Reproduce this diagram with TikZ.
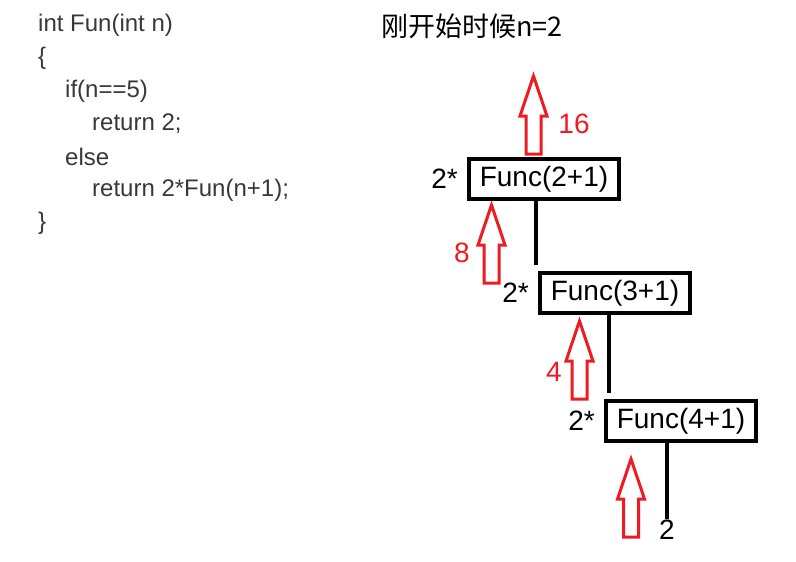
\documentclass[tikz,border=0pt]{standalone}
\usepackage{fontspec}
\setmainfont{Liberation Sans}
\newfontfamily\cjk{Noto Sans CJK SC}
\usetikzlibrary{positioning}
\definecolor{paintred}{RGB}{237,28,36}
\tikzset{
  funcbox/.style={draw,line width=4pt,minimum width=150pt,minimum height=40pt,inner sep=0pt,font=\fontsize{28}{30}\selectfont},
  times/.style={font=\fontsize{28}{30}\selectfont,inner sep=2pt},
  code/.style={font=\fontsize{24}{26}\selectfont,text=black!78,inner sep=0pt,anchor=west},
  retval/.style={font=\fontsize{28}{30}\selectfont,text=paintred,inner sep=0pt},
  link/.style={line width=4pt},
  redup/.pic={
    \draw[paintred,line width=3pt,line join=miter]
      (-7.5,0) -- (-7.5,-38) -- (-13.5,-38) -- (0,-78) -- (13.5,-38) -- (7.5,-38) -- (7.5,0) -- cycle;
  }
}
\begin{document}
\begin{tikzpicture}[x=1pt,y=-1pt]
	\useasboundingbox (0,0) rectangle (796,562);
	% code on the left
	\foreach \row/\ind/\txt in {0/0/{int Fun(int n)},1/0/{\{},2/1/{if(n==5)},3/2/{return 2;},4/1/{else},5/2/{return 2*Fun(n+1);},6/0/{\}}}
	\node[code] (c\row) at (38+27*\ind,25+33*\row) {\txt};
	% title
	\node[font=\cjk\fontsize{27}{29}\selectfont,inner sep=0pt] (title) at (472,26) {刚开始时候n=2};
	% calls
	\node[funcbox] (f1) at (544,179) {Func(2+1)};
	\node[funcbox] (f2) at (615,293) {Func(3+1)};
	\node[funcbox] (f3) at (681,421) {Func(4+1)};
	\node[times,left=7pt of f1] (t1) {2*};
	\node[times,left=7pt of f2] (t2) {2*};
	\node[times,left=7pt of f3] (t3) {2*};
	\node[font=\fontsize{28}{30}\selectfont,inner sep=1pt] (ret) at (667,530) {2};
	\draw[link] ([xshift=-2pt]f2.north west |- f1.south) -- ([xshift=-2pt,yshift=6pt]f2.north west);
	\draw[link] ([xshift=5pt]f3.north west |- f2.south) -- ([xshift=5pt,yshift=6pt]f3.north west);
	\draw[link] (ret.north |- f3.south) -- (ret.north);
	% returned values
	\pic at (533.5,154) {redup};
	\pic at (491.5,283) {redup};
	\pic at (579.5,399) {redup};
	\pic at (631,537) {redup};
	\node[retval] (v16) at (574,124) {16};
	\node[retval] (v8) at (462,253) {8};
	\node[retval] (v4) at (554,372) {4};
\end{tikzpicture}
\end{document}
